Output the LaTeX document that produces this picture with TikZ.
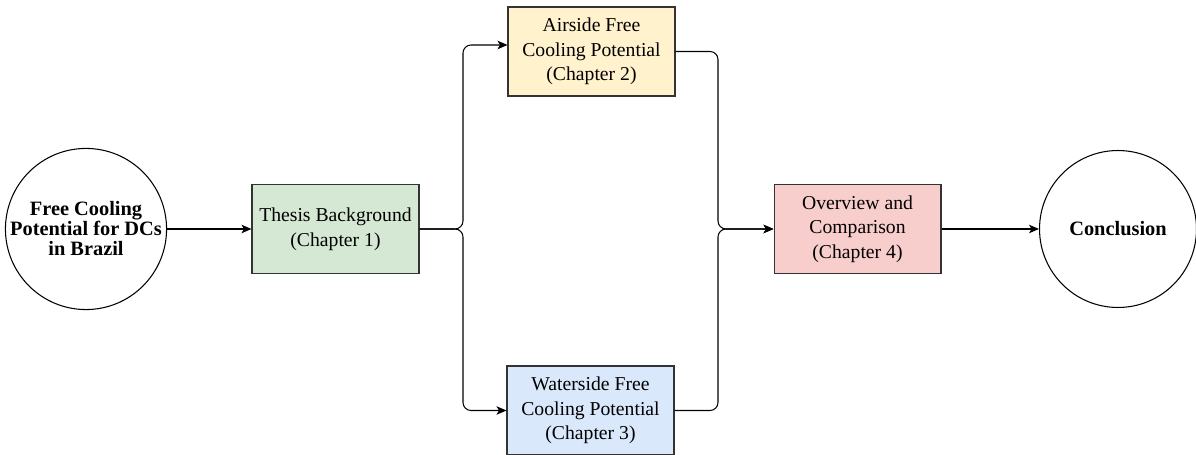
\documentclass[tikz,border=0pt]{standalone}
\usepackage{fontspec}
\setmainfont{Liberation Serif}
\usetikzlibrary{arrows.meta,calc}
\definecolor{boxgreen}{HTML}{D5E8D4}
\definecolor{boxyellow}{HTML}{FFF2CC}
\definecolor{boxblue}{HTML}{DAE8FC}
\definecolor{boxred}{HTML}{F8CECC}
\definecolor{edgegray}{HTML}{333333}
\tikzset{
  x=0.02cm, y=-0.02cm,
  chapbox/.style={draw=edgegray, line width=0.6pt, minimum width=3.34cm, minimum height=1.78cm,
    align=center, inner sep=0pt, font=\fontsize{11.2}{14}\selectfont},
  endcircle/.style={draw=black, line width=0.6pt, circle, minimum size=3.14cm, inner sep=0pt,
    align=center, font=\fontsize{11.6}{11.4}\selectfont\bfseries},
  flow/.style={line width=0.6pt, -{Stealth[length=0.2cm,width=0.17cm,inset=0.05cm]}},
  elbowflow/.style={flow, rounded corners=0.16cm}
}
\begin{document}
\begin{tikzpicture}
\useasboundingbox (0,0) rectangle (1196,455);

% terminal nodes
\node[endcircle] (start) at (86,229) {Free Cooling\\Potential for DCs\\in Brazil};
\node[endcircle] (concl) at (1118,229) {Conclusion};

% chapter boxes
\node[chapbox, fill=boxgreen]  (ch1) at (335.5,229)  {Thesis Background\\(Chapter 1)};
\node[chapbox, fill=boxyellow] (ch2) at (591.5,51.5) {Airside Free\\Cooling Potential\\(Chapter 2)};
\node[chapbox, fill=boxblue]   (ch3) at (590.5,410.5) {Waterside Free\\Cooling Potential\\(Chapter 3)};
\node[chapbox, fill=boxred]    (ch4) at (857.5,229)  {Overview and\\Comparison\\(Chapter 4)};

% branch points
\coordinate (split) at (463,229);
\coordinate (merge) at (718,229);

\draw[flow] (start) -- (ch1);
\draw[elbowflow] (ch1.east) -- (split) |- ([yshift=0.13cm]ch2.west);
\draw[elbowflow] (ch1.east) -- (split) |- (ch3.west);
\draw[elbowflow] (ch2.east) -| (merge) -- (ch4.west);
\draw[elbowflow] (ch3.east) -| (merge) -- (ch4.west);
\draw[flow] (ch4) -- (concl);
\end{tikzpicture}
\end{document}
